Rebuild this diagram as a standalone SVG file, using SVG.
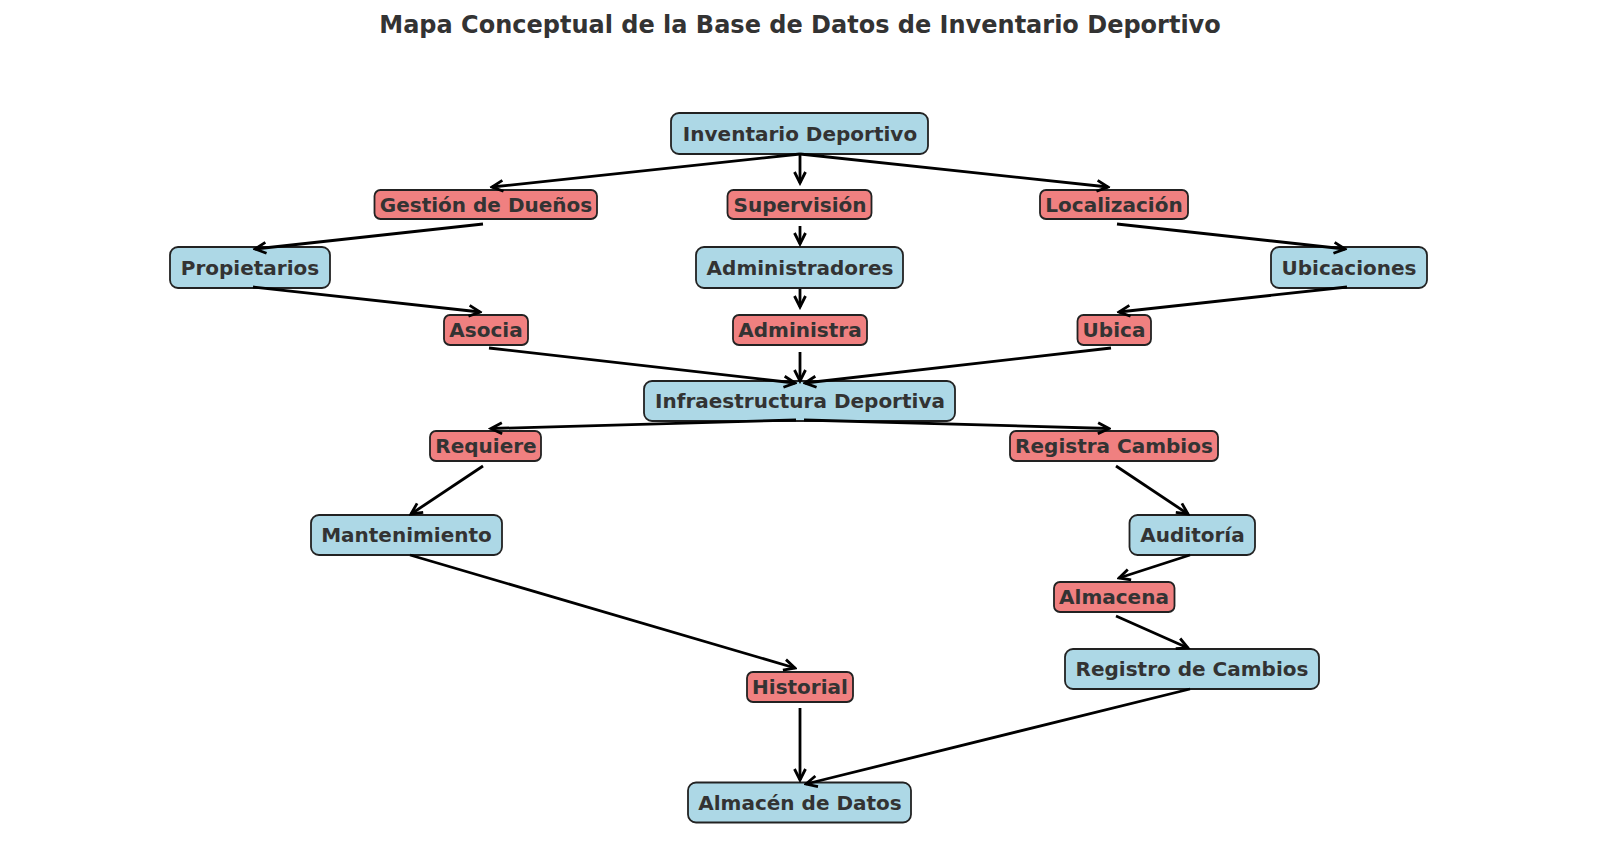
<svg xmlns="http://www.w3.org/2000/svg" width="1600" height="859" viewBox="0 0 1600 859">
<style>
.t{font-family:"DejaVu Sans",sans-serif;font-weight:bold;fill:#333333;text-anchor:middle;dominant-baseline:central}
.lbl{font-size:20px}
.title{font-size:24px}
.b{fill:#add8e6;stroke:#222222;stroke-width:1.8}
.r{fill:#f08080;stroke:#222222;stroke-width:1.8}
.e{stroke:#000000;stroke-width:2.8;fill:none;marker-end:url(#ah)}
</style>
<defs>
<marker id="ah" markerUnits="userSpaceOnUse" markerWidth="16" markerHeight="16" viewBox="0 0 16 16" refX="13.5" refY="8" orient="auto">
<path d="M2.5,2.5 L13.5,8 L2.5,13.5" fill="none" stroke="#000000" stroke-width="2.8"/>
</marker>
</defs>
<rect width="1600" height="859" fill="#ffffff"/>
<text class="t title" x="800" y="25">Mapa Conceptual de la Base de Datos de Inventario Deportivo</text>
<g id="n-inventario"><rect class="b" x="671" y="113" width="257" height="41" rx="8"/><text class="t lbl" x="800" y="133.5">Inventario Deportivo</text></g>
<g id="n-gestion"><rect class="r" x="374.5" y="190" width="222.5" height="29" rx="6"/><text class="t lbl" x="486" y="204.5">Gestión de Dueños</text></g>
<g id="n-supervision"><rect class="r" x="727.5" y="190" width="144" height="29" rx="6"/><text class="t lbl" x="800" y="204.5">Supervisión</text></g>
<g id="n-localizacion"><rect class="r" x="1040" y="190" width="148" height="29" rx="6"/><text class="t lbl" x="1114" y="204.5">Localización</text></g>
<g id="n-propietarios"><rect class="b" x="170" y="247" width="160" height="41" rx="8"/><text class="t lbl" x="250" y="267.5">Propietarios</text></g>
<g id="n-administradores"><rect class="b" x="696" y="247" width="207" height="41" rx="8"/><text class="t lbl" x="800" y="267.5">Administradores</text></g>
<g id="n-ubicaciones"><rect class="b" x="1271" y="247" width="156" height="41" rx="8"/><text class="t lbl" x="1349" y="267.5">Ubicaciones</text></g>
<g id="n-asocia"><rect class="r" x="444" y="315" width="84" height="30" rx="6"/><text class="t lbl" x="486" y="330">Asocia</text></g>
<g id="n-administra"><rect class="r" x="733" y="315" width="134" height="30" rx="6"/><text class="t lbl" x="800" y="330">Administra</text></g>
<g id="n-ubica"><rect class="r" x="1077.5" y="315" width="73.5" height="30" rx="6"/><text class="t lbl" x="1114" y="330">Ubica</text></g>
<g id="n-infraestructura"><rect class="b" x="644" y="381" width="311" height="40" rx="8"/><text class="t lbl" x="800" y="400.5">Infraestructura Deportiva</text></g>
<g id="n-requiere"><rect class="r" x="430" y="431" width="111" height="30" rx="6"/><text class="t lbl" x="486" y="446">Requiere</text></g>
<g id="n-registra"><rect class="r" x="1010" y="431" width="208" height="30" rx="6"/><text class="t lbl" x="1114" y="446">Registra Cambios</text></g>
<g id="n-mantenimiento"><rect class="b" x="311" y="515" width="191" height="40" rx="8"/><text class="t lbl" x="406.5" y="535">Mantenimiento</text></g>
<g id="n-auditoria"><rect class="b" x="1129.5" y="515" width="125.5" height="40" rx="8"/><text class="t lbl" x="1192.5" y="535">Auditoría</text></g>
<g id="n-almacena"><rect class="r" x="1054" y="582" width="120.5" height="30" rx="6"/><text class="t lbl" x="1114" y="597">Almacena</text></g>
<g id="n-registro"><rect class="b" x="1065" y="649" width="254" height="40" rx="8"/><text class="t lbl" x="1192" y="669">Registro de Cambios</text></g>
<g id="n-historial"><rect class="r" x="747" y="672" width="106" height="30" rx="6"/><text class="t lbl" x="800" y="687">Historial</text></g>
<g id="n-almacen"><rect class="b" x="688" y="782.5" width="223" height="40" rx="8"/><text class="t lbl" x="800" y="802.5">Almacén de Datos</text></g>
<g id="connectors">
<line class="e" x1="800" y1="154" x2="492" y2="187"/>
<line class="e" x1="800" y1="154" x2="800" y2="183"/>
<line class="e" x1="800" y1="154" x2="1108" y2="187"/>
<line class="e" x1="483" y1="224" x2="255" y2="249"/>
<line class="e" x1="800" y1="226" x2="800" y2="244"/>
<line class="e" x1="1117" y1="224" x2="1345" y2="249"/>
<line class="e" x1="253" y1="287" x2="480" y2="312"/>
<line class="e" x1="800" y1="289" x2="800" y2="307"/>
<line class="e" x1="1347" y1="287" x2="1119" y2="312"/>
<line class="e" x1="489" y1="348" x2="795" y2="383"/>
<line class="e" x1="800" y1="352" x2="800" y2="381"/>
<line class="e" x1="1111" y1="348" x2="805" y2="383"/>
<line class="e" x1="796" y1="420" x2="491" y2="428.5"/>
<line class="e" x1="804" y1="420" x2="1109" y2="428.5"/>
<line class="e" x1="483" y1="466" x2="411" y2="514"/>
<line class="e" x1="1116" y1="466" x2="1188" y2="514"/>
<line class="e" x1="410" y1="555" x2="795" y2="668"/>
<line class="e" x1="1190" y1="555" x2="1119" y2="578"/>
<line class="e" x1="1116" y1="616" x2="1188" y2="648"/>
<line class="e" x1="800" y1="708" x2="800" y2="780"/>
<line class="e" x1="1190" y1="689" x2="806" y2="784"/>
</g>
</svg>
